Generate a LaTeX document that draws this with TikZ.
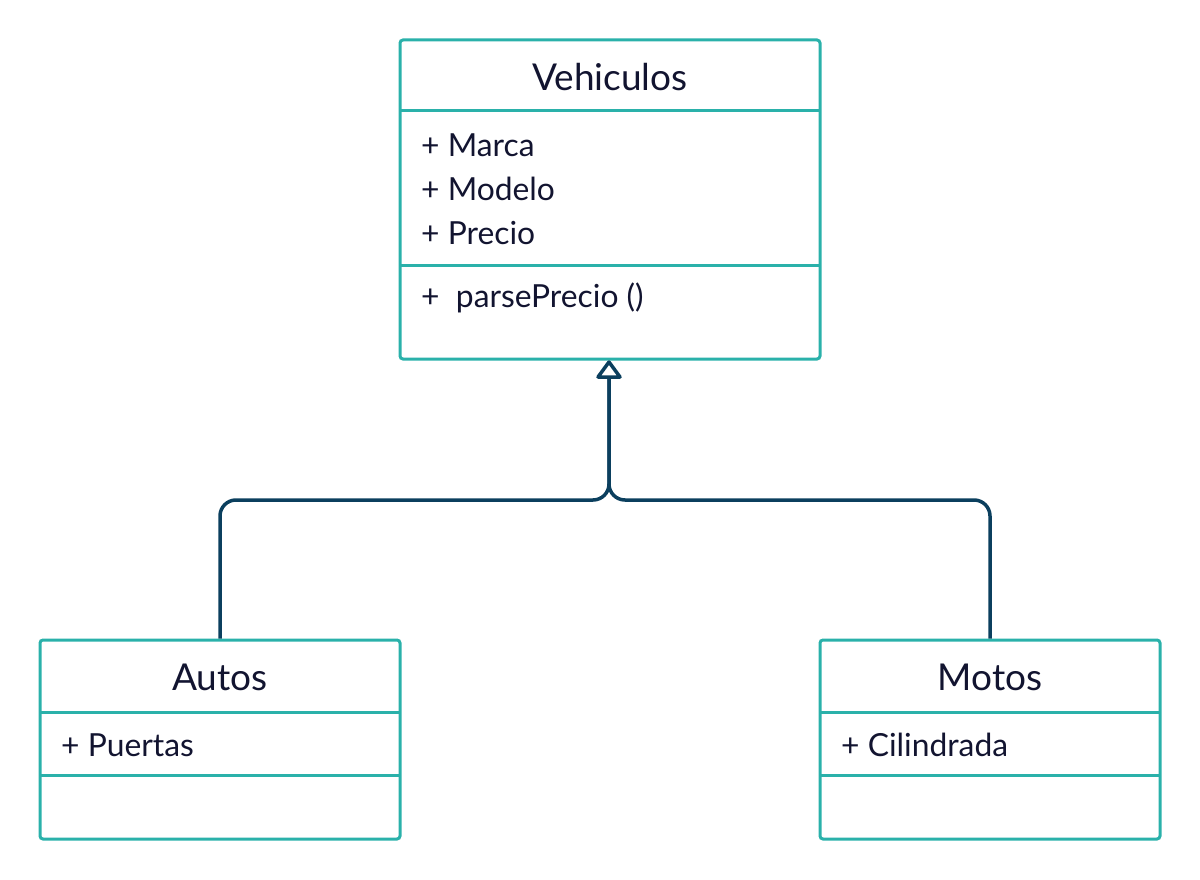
\documentclass[tikz,border=0pt]{standalone}
\usepackage{fontspec}
\setmainfont{Lato}
\definecolor{teal1}{HTML}{2AB1AA}
\definecolor{navy1}{HTML}{0B3F5E}
\definecolor{txt1}{HTML}{121430}
\tikzset{
  umlbox/.style={draw=teal1, line width=3pt, rounded corners=3pt, inner sep=0pt},
  sepline/.style={draw=teal1, line width=3pt},
  title/.style={text=txt1, font=\fontsize{37}{44}\selectfont, anchor=center, inner sep=0pt},
  attr/.style={text=txt1, font=\fontsize{31.8}{38}\selectfont, anchor=west, inner sep=0pt},
  conn/.style={draw=navy1, line width=3.5pt, rounded corners=16pt},
  tri/.style={draw=navy1, fill=white, line width=3.5pt, line join=round}
}
\begin{document}
\begin{tikzpicture}[x=1pt, y=-1pt]
\useasboundingbox (0,0) rectangle (1200,880);
% Vehiculos
\node[umlbox, minimum width=420pt, minimum height=319pt] (veh) at (610,199.5) {};
\draw[sepline] (400,111) -- (820,111);
\draw[sepline] (400,265) -- (820,265);
\node[title] (vehT) at (610,77) {Vehiculos};
\node[attr] (a1) at (421,145) {+ Marca};
\node[attr] (a2) at (421,189) {+ Modelo};
\node[attr] (a3) at (421,233) {+ Precio};
\node[attr] (m1) at (421,298) {+\ \ parsePrecio ()};
% Autos
\node[umlbox, minimum width=360pt, minimum height=199pt] (autos) at (220,739.5) {};
\draw[sepline] (40,712) -- (400,712);
\draw[sepline] (40,775) -- (400,775);
\node[title] (autosT) at (220,677) {Autos};
\node[attr] (b1) at (61,745) {+ Puertas};
% Motos
\node[umlbox, minimum width=340pt, minimum height=199pt] (motos) at (990,739.5) {};
\draw[sepline] (820,712) -- (1160,712);
\draw[sepline] (820,775) -- (1160,775);
\node[title] (motosT) at (990,677) {Motos};
\node[attr] (c1) at (841,745) {+ Cilindrada};
% connectors
\coordinate (j) at (609,500);
\coordinate (tipbase) at (609,377);
\coordinate (tip) at (609,362);
\draw[conn] (autos.north) -- (220,500) -- (j) -- (tipbase);
\draw[conn] (motos.north) -- (990,500) -- (j) -- (tipbase);
\draw[tri] (tip) -- (598,377) -- (620,377) -- cycle;
\end{tikzpicture}
\end{document}
